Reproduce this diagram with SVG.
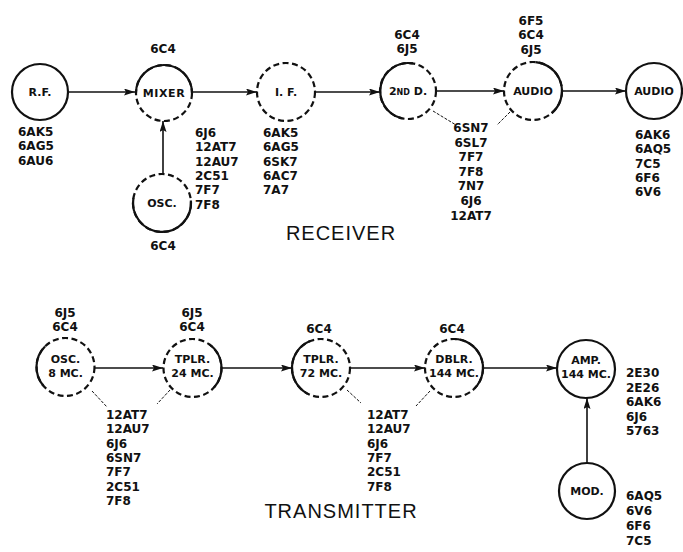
<svg xmlns="http://www.w3.org/2000/svg" width="683" height="552" viewBox="0 0 683 552">
<defs>
<marker id="ah" markerUnits="userSpaceOnUse" markerWidth="12" markerHeight="8" refX="11" refY="3.5" orient="auto">
<path d="M0,0 L11,3.5 L0,7 L2,3.5 z" fill="#111"/>
</marker>
<style>
.c{fill:none;stroke:#111;stroke-width:2.2}
.d{fill:none;stroke:#111;stroke-width:2.2;stroke-dasharray:6 3.5}
.s{fill:none;stroke:#111;stroke-width:2.2}
.w{fill:none;stroke:#111;stroke-width:1.6}
.l{fill:none;stroke:#111;stroke-width:1;stroke-dasharray:3 1.5}
text{font-family:"DejaVu Sans","Liberation Sans",sans-serif;fill:#111}
.t{font-size:12px;font-weight:bold}
.n{font-size:11px;font-weight:bold;text-anchor:middle}
.m{text-anchor:middle}
.h{font-family:"Liberation Sans",Arial,sans-serif;font-size:20px;text-anchor:middle;letter-spacing:1px}
</style>
</defs>
<rect width="683" height="552" fill="#fff"/>

<g id="connectors">
<line class="w" x1="68" y1="92" x2="135" y2="92" marker-end="url(#ah)"/>
<line class="w" x1="192" y1="92" x2="257" y2="92" marker-end="url(#ah)"/>
<line class="w" x1="315" y1="92" x2="380" y2="92" marker-end="url(#ah)"/>
<line class="w" x1="437" y1="91" x2="504" y2="91" marker-end="url(#ah)"/>
<line class="w" x1="562" y1="91" x2="626" y2="91" marker-end="url(#ah)"/>
<line class="w" x1="163" y1="174" x2="163" y2="121" marker-end="url(#ah)"/>
<line class="l" x1="433" y1="111" x2="456" y2="125"/>
<line class="l" x1="510" y1="112" x2="497" y2="125"/>
<line class="w" x1="95" y1="368" x2="163" y2="368" marker-end="url(#ah)"/>
<line class="w" x1="222" y1="368" x2="292" y2="368" marker-end="url(#ah)"/>
<line class="w" x1="350" y1="368" x2="425" y2="368" marker-end="url(#ah)"/>
<line class="w" x1="483" y1="368" x2="557" y2="368" marker-end="url(#ah)"/>
<line class="w" x1="587" y1="463" x2="587" y2="398" marker-end="url(#ah)"/>
<line class="l" x1="92" y1="391" x2="107" y2="407"/>
<line class="l" x1="170" y1="390" x2="157" y2="404"/>
<line class="l" x1="347" y1="390" x2="361" y2="403"/>
<line class="l" x1="430" y1="391" x2="416" y2="406"/>
</g>

<g id="rf">
<circle class="c" cx="40" cy="92" r="28"/>
<text class="n" x="40" y="96" font-size="12">R.F.</text>
<text class="t" x="18" y="136">6AK5</text>
<text class="t" x="18" y="150.3">6AG5</text>
<text class="t" x="18" y="164.6">6AU6</text>
</g>

<g id="mixer">
<circle class="d" cx="164" cy="93" r="28"/>
<path class="s" d="M136,93 A28,28 0 0 1 192,93"/>
<text class="n" x="164" y="97" letter-spacing="0.6">MIXER</text>
<text class="t m" x="163" y="53">6C4</text>
<text class="t" x="195" y="137">6J6</text>
<text class="t" x="195" y="151.3">12AT7</text>
<text class="t" x="195" y="165.6">12AU7</text>
<text class="t" x="195" y="179.9">2C51</text>
<text class="t" x="195" y="194.2">7F7</text>
<text class="t" x="195" y="208.5">7F8</text>
</g>

<g id="osc-rx">
<circle class="d" cx="162" cy="203" r="29"/>
<path class="s" d="M190.9,200.5 A29,29 0 1 1 133.4,198"/>
<text class="n" x="162" y="207">OSC.</text>
<text class="t m" x="163" y="250">6C4</text>
</g>

<g id="if">
<circle class="d" cx="286" cy="92" r="29"/>
<text class="n" x="286" y="96">I. F.</text>
<text class="t" x="263" y="137">6AK5</text>
<text class="t" x="263" y="151.3">6AG5</text>
<text class="t" x="263" y="165.6">6SK7</text>
<text class="t" x="263" y="179.9">6AC7</text>
<text class="t" x="263" y="194.2">7A7</text>
</g>

<g id="det2">
<circle class="d" cx="408" cy="91" r="28"/>
<path class="s" d="M412.9,63.4 A28,28 0 0 0 400.8,118"/>
<text class="n" x="408" y="95">2<tspan font-size="8">ND</tspan> D.</text>
<text class="t m" x="407" y="39">6C4</text>
<text class="t m" x="407" y="53.3">6J5</text>
</g>

<g id="audio1">
<circle class="d" cx="533" cy="91" r="29"/>
<path class="s" d="M535.5,62.1 A29,29 0 0 1 551.6,113.2"/>
<text class="n" x="533" y="95">AUDIO</text>
<text class="t m" x="531" y="25">6F5</text>
<text class="t m" x="531" y="39.3">6C4</text>
<text class="t m" x="531" y="53.6">6J5</text>
</g>

<g id="shared-rx">
<text class="t m" x="471" y="132">6SN7</text>
<text class="t m" x="471" y="146.6">6SL7</text>
<text class="t m" x="471" y="161.2">7F7</text>
<text class="t m" x="471" y="175.8">7F8</text>
<text class="t m" x="471" y="190.4">7N7</text>
<text class="t m" x="471" y="205">6J6</text>
<text class="t m" x="471" y="219.6">12AT7</text>
</g>

<g id="audio2">
<circle class="c" cx="654" cy="91" r="28"/>
<text class="n" x="654" y="95">AUDIO</text>
<text class="t" x="635" y="139">6AK6</text>
<text class="t" x="635" y="153.3">6AQ5</text>
<text class="t" x="635" y="167.6">7C5</text>
<text class="t" x="635" y="181.9">6F6</text>
<text class="t" x="635" y="196.2">6V6</text>
</g>

<text class="h" x="341" y="240">RECEIVER</text>

<g id="osc-tx">
<circle class="d" cx="65.5" cy="367" r="29"/>
<path class="s" d="M45,346.5 A29,29 0 0 0 43.3,385.6"/>
<text class="n" x="65.5" y="363">OSC.</text>
<text class="n" x="65.5" y="377">8 MC.</text>
<text class="t m" x="65" y="316.5">6J5</text>
<text class="t m" x="65" y="331">6C4</text>
</g>

<g id="tplr24">
<circle class="d" cx="192.5" cy="368" r="29"/>
<path class="s" d="M209.1,344.2 A29,29 0 0 1 214.05,387.4"/>
<text class="n" x="192.5" y="363">TPLR.</text>
<text class="n" x="192.5" y="377">24 MC.</text>
<text class="t m" x="192" y="316.5">6J5</text>
<text class="t m" x="192" y="331">6C4</text>
</g>

<g id="shared-tx1">
<text class="t" x="106" y="419">12AT7</text>
<text class="t" x="106" y="433.3">12AU7</text>
<text class="t" x="106" y="447.6">6J6</text>
<text class="t" x="106" y="461.9">6SN7</text>
<text class="t" x="106" y="476.2">7F7</text>
<text class="t" x="106" y="490.5">2C51</text>
<text class="t" x="106" y="504.8">7F8</text>
</g>

<g id="tplr72">
<circle class="d" cx="321" cy="368" r="29"/>
<path class="s" d="M310.1,341.1 A29,29 0 0 0 307.4,393.6"/>
<text class="n" x="321" y="363">TPLR.</text>
<text class="n" x="321" y="377">72 MC.</text>
<text class="t m" x="319" y="332.5">6C4</text>
</g>

<g id="dblr">
<circle class="d" cx="454" cy="368" r="29"/>
<path class="s" d="M453,339 A29,29 0 0 1 474.5,388.5"/>
<text class="n" x="454" y="363">DBLR.</text>
<text class="n" x="454" y="377">144 MC.</text>
<text class="t m" x="452" y="332.5">6C4</text>
</g>

<g id="shared-tx2">
<text class="t" x="367" y="419">12AT7</text>
<text class="t" x="367" y="433.3">12AU7</text>
<text class="t" x="367" y="447.6">6J6</text>
<text class="t" x="367" y="461.9">7F7</text>
<text class="t" x="367" y="476.2">2C51</text>
<text class="t" x="367" y="490.5">7F8</text>
</g>

<g id="amp">
<circle class="c" cx="586" cy="369" r="29"/>
<text class="n" x="586" y="364">AMP.</text>
<text class="n" x="586" y="378">144 MC.</text>
<text class="t" x="626" y="377">2E30</text>
<text class="t" x="626" y="391.5">2E26</text>
<text class="t" x="626" y="406">6AK6</text>
<text class="t" x="626" y="420.5">6J6</text>
<text class="t" x="626" y="435">5763</text>
</g>

<g id="mod">
<circle class="c" cx="587" cy="491" r="28"/>
<text class="n" x="587" y="495">MOD.</text>
<text class="t" x="626" y="500">6AQ5</text>
<text class="t" x="626" y="515">6V6</text>
<text class="t" x="626" y="530">6F6</text>
<text class="t" x="626" y="545">7C5</text>
</g>

<text class="h" x="341" y="518">TRANSMITTER</text>
</svg>
